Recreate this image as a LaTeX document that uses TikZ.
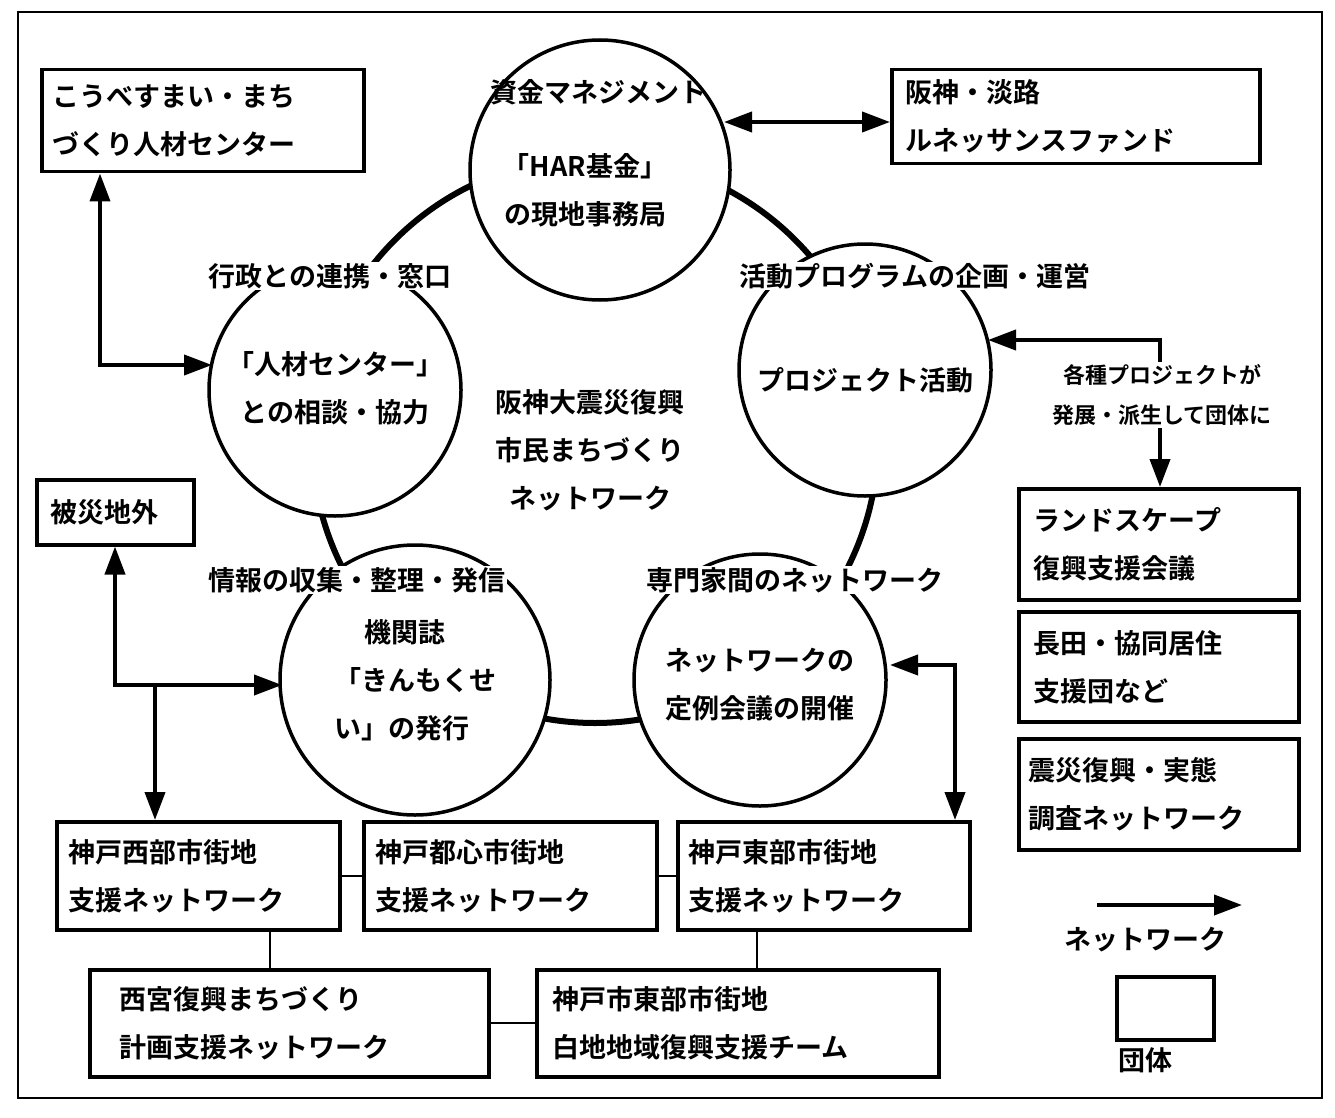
\documentclass[tikz,border=0pt]{standalone}
\usepackage{fontspec}
\setmainfont{Noto Sans CJK JP}[BoldFont={Noto Sans CJK JP Bold}]
\usetikzlibrary{arrows.meta}
\begin{document}
\begin{tikzpicture}[x=1pt,y=-1pt,
  box/.style={draw,line width=3.5pt,align=left,inner sep=0pt,font=\fontsize{27}{48}\selectfont\bfseries},
  circ/.style={draw,line width=3.5pt,fill=white,circle,inner sep=0pt},
  txt/.style={align=center,font=\fontsize{27}{48}\selectfont\bfseries},
  lab/.style={txt,fill=white,inner sep=1pt},
  arr/.style={line width=4pt,{Triangle[length=28pt,width=20pt]}-{Triangle[length=28pt,width=20pt]}},
  arrone/.style={line width=4pt,-{Triangle[length=28pt,width=20pt]}},
  ln/.style={line width=2pt}]
\useasboundingbox (0,0) rectangle (1335,1118);
\draw[line width=2.5pt] (18,12) rectangle (1322,1098);
% ring
\draw[line width=6pt] (595,440) circle[radius=283];
% circles
\node[circ,minimum size=260pt] (top) at (600,170) {};
\node[circ,minimum size=252pt] (left) at (335,390) {};
\node[circ,minimum size=252pt] (right) at (865,370) {};
\node[circ,minimum size=270pt] (bl) at (415,680) {};
\node[circ,minimum size=252pt] (br) at (760,680) {};
% circle texts
\node[txt] (t1) at (598,92) {資金マネジメント};
\node[txt] (t2) at (585,190) {「HAR基金」\\の現地事務局};
\node[lab] (t3) at (330,276) {行政との連携・窓口};
\node[txt] (t4) at (335,388) {「人材センター」\\との相談・協力};
\node[lab] (t5) at (915,276) {活動プログラムの企画・運営};
\node[txt] (t6) at (865,380) {プロジェクト活動};
\node[txt] (t7) at (590,450) {阪神大震災復興\\市民まちづくり\\ネットワーク};
\node[lab] (t8) at (357,580) {情報の収集・整理・発信};
\node[txt,align=left] (t9) at (410,680) {\hspace{40pt}機関誌\\\hspace{10pt}「きんもくせ\\\hspace{10pt}い」の発行};
\node[lab] (t10) at (795,580) {専門家間のネットワーク};
\node[txt] (t11) at (760,685) {ネットワークの\\定例会議の開催};
% boxes
\node[box,minimum width=322pt,minimum height=102pt,anchor=north west,text width=300pt] (kobe) at (40,68) {こうべすまい・まち\\づくり人材センター};
\node[box,minimum width=368pt,minimum height=94pt,anchor=north west,text width=340pt] (fund) at (890,68) {阪神・淡路\\ルネッサンスファンド};
\node[box,minimum width=157pt,minimum height=65pt,anchor=north west,text width=130pt] (out) at (35,478) {被災地外};
\node[box,minimum width=280pt,minimum height=111pt,anchor=north west,text width=250pt] (land) at (1017,487) {ランドスケープ\\復興支援会議};
\node[box,minimum width=280pt,minimum height=110pt,anchor=north west,text width=250pt] (naga) at (1017,610) {長田・協同居住\\支援団など};
\node[box,minimum width=280pt,minimum height=111pt,anchor=north west,text width=260pt] (shin) at (1017,737) {震災復興・実態\\調査ネットワーク};
\node[box,minimum width=283pt,minimum height=108pt,anchor=north west,text width=260pt] (west) at (55,820) {神戸西部市街地\\支援ネットワーク};
\node[box,minimum width=293pt,minimum height=108pt,anchor=north west,text width=270pt] (cent) at (362,820) {神戸都心市街地\\支援ネットワーク};
\node[box,minimum width=292pt,minimum height=108pt,anchor=north west,text width=270pt] (east) at (676,820) {神戸東部市街地\\支援ネットワーク};
\node[box,minimum width=399pt,minimum height=107pt,anchor=north west,text width=340pt] (nishi) at (88,968) {西宮復興まちづくり\\計画支援ネットワーク};
\node[box,minimum width=402pt,minimum height=107pt,anchor=north west,text width=370pt] (shira) at (535,968) {神戸市東部市街地\\白地地域復興支援チーム};
% lines between boxes
\draw[ln] (west.east) -- (cent.west);
\draw[ln] (cent.east) -- (east.west);
\draw[ln] (nishi.east) -- (shira.west);
\draw[ln] (west.south -| 270,0) -- (nishi.north -| 270,0);
\draw[ln] (east.south -| 757,0) -- (shira.north -| 757,0);
% arrows
\draw[arr] (724,122) -- (fund.west |- 0,122);
\coordinate (c1) at (100,365);
\draw[arr] (kobe.south -| 100,0) -- (c1) -- (212,365);
\coordinate (c2) at (115,685);
\draw[arr] (out.south -| 115,0) -- (c2) -- (282,685);
\draw[arrone] (155,685) -- (west.north -| 155,0);
\coordinate (c3) at (1160,340);
\draw[arr] (988,340) -- (c3) -- (land.north -| 1160,0);
\coordinate (c4) at (955,665);
\draw[arr] (890,665) -- (c4) -- (east.north -| 955,0);
\node[txt,font=\fontsize{22}{40}\selectfont\bfseries,fill=white,inner sep=2pt] (kakushu) at (1162,395) {各種プロジェクトが\\発展・派生して団体に};
% legend
\coordinate (l1) at (1097,905);
\coordinate (l2) at (1242,905);
\draw[arrone] (l1) -- (l2);
\node[txt] (lg1) at (1145,940) {ネットワーク};
\node[draw,line width=3.5pt,minimum width=97pt,minimum height=63pt,anchor=north west] (lgb) at (1115,975) {};
\node[txt] (lg2) at (1145,1060) {団体};
\end{tikzpicture}
\end{document}
